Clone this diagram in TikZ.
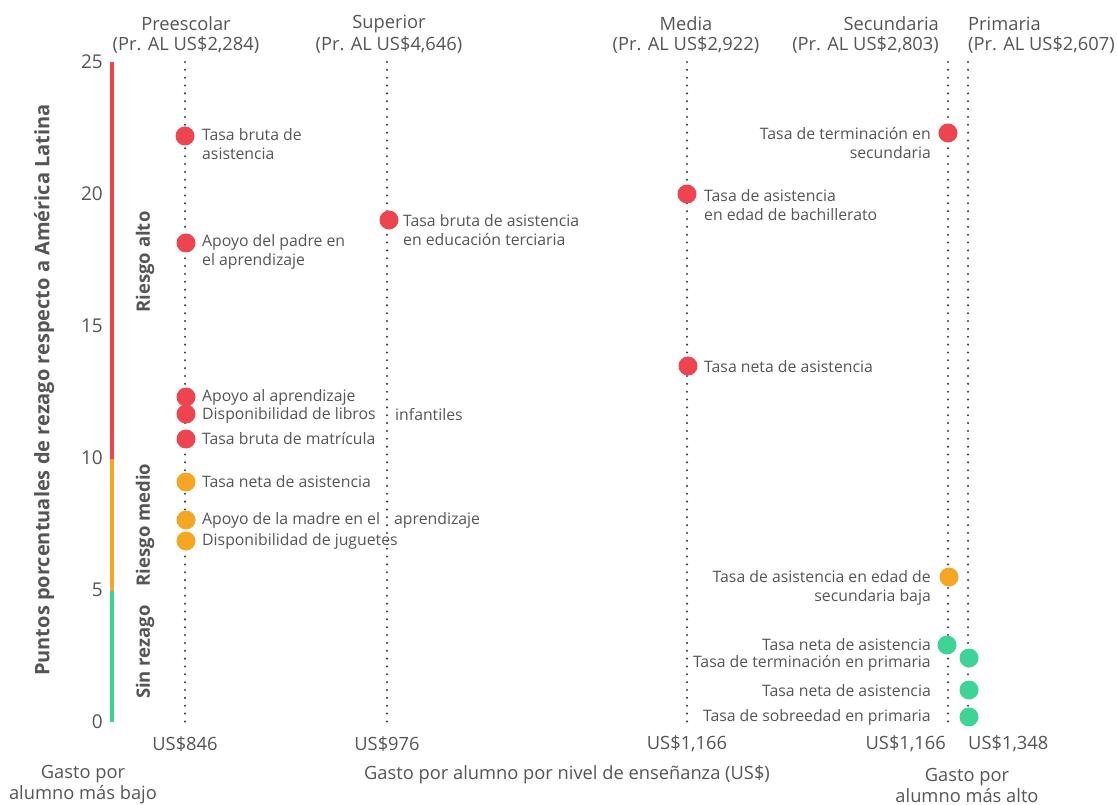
\documentclass[tikz,border=0pt]{standalone}
\usepackage{fontspec}
\setmainfont{Open Sans}
\definecolor{cred}{HTML}{EE4450}
\definecolor{corg}{HTML}{F5A623}
\definecolor{cgrn}{HTML}{3ED495}
\definecolor{ctxt}{HTML}{555555}
\definecolor{cdot}{HTML}{3A3F4A}
\begin{document}
\begin{tikzpicture}[x=1pt,y=-1pt,
  lbl/.style={text=ctxt,font=\fontsize{15.8}{19.5}\selectfont,inner sep=0pt,align=left},
  rlbl/.style={lbl,align=right},
  hdr/.style={text=ctxt,font=\fontsize{18.3}{21}\selectfont,inner sep=0pt},
  tick/.style={text=ctxt,font=\fontsize{19}{20}\selectfont,inner sep=0pt,anchor=east},
  band/.style={text=ctxt,font=\fontsize{18.5}{20}\selectfont\bfseries,inner sep=0pt,rotate=90},
  vline/.style={cdot,line width=2.3pt,line cap=round,dash pattern=on 0pt off 7.85pt},
  pt/.style={circle,inner sep=0pt,minimum size=19pt},
  rd/.style={pt,fill=cred},
  og/.style={pt,fill=corg},
  gn/.style={pt,fill=cgrn}]
\useasboundingbox (0,0) rectangle (1117,805);
% scale bar
\draw[cred,line width=4.5pt] (112,62) -- (112,459);
\draw[corg,line width=4.5pt] (112,459) -- (112,591);
\draw[cgrn,line width=4.5pt] (112,591) -- (112,722);
\node[tick] (t25) at (103,62) {25};
\node[tick] (t20) at (103,194) {20};
\node[tick] (t15) at (103,326) {15};
\node[tick] (t10) at (103,458) {10};
\node[tick] (t5) at (103,590) {5};
\node[tick] (t0) at (103,722) {0};
\node[band] (ralto) at (145,262) {Riesgo alto};
\node[band] (rmedio) at (145,525) {Riesgo medio};
\node[band] (sinr) at (145,652) {Sin rezago};
\node[band,font=\fontsize{20}{22}\selectfont\bfseries] (ytitle) at (44,390) {Puntos porcentuales de rezago respecto a América Latina};
% vertical dotted lines
\coordinate (pT) at (185,62); \coordinate (pB) at (185,722);
\coordinate (sT) at (387,62); \coordinate (sB) at (387,722);
\coordinate (mT) at (687,62); \coordinate (mB) at (687,722);
\coordinate (cT) at (948,62); \coordinate (cB) at (948,722);
\coordinate (qT) at (968,62); \coordinate (qB) at (968,722);
\draw[vline] (pT) -- (pB);
\draw[vline] (sT) -- (sB);
\draw[vline] (mT) -- (mB);
\draw[vline] (cT) -- (cB);
\draw[vline] (qT) -- (qB);
% headers
\node[hdr] (h1) at (186,24) {Preescolar};
\node[hdr] (h1b) at (186,45) {(Pr. AL US\$2,284)};
\node[hdr] (h2) at (389,24) {Superior};
\node[hdr] (h2b) at (389,45) {(Pr. AL US\$4,646)};
\node[hdr] (h3) at (686,24) {Media};
\node[hdr] (h3b) at (686,45) {(Pr. AL US\$2,922)};
\node[hdr,anchor=east] (h4) at (939,24) {Secundaria};
\node[hdr,anchor=east] (h4b) at (939,45) {(Pr. AL US\$2,803)};
\node[hdr,anchor=west] (h5) at (968,24) {Primaria};
\node[hdr,anchor=west] (h5b) at (968,45) {(Pr. AL US\$2,607)};
% bottom
\node[hdr] (b1) at (185,744) {US\$846};
\node[hdr] (b2) at (387,744) {US\$976};
\node[hdr] (b3) at (687,744) {US\$1,166};
\node[hdr,anchor=east] (b4) at (946,744) {US\$1,166};
\node[hdr,anchor=west] (b5) at (968,744) {US\$1,348};
\node[hdr,align=center] (g1) at (83,785) {Gasto por\\alumno más bajo};
\node[hdr] (g2) at (567,775) {Gasto por alumno por nivel de enseñanza (US\$)};
\node[hdr,align=center] (g3) at (967,785) {Gasto por\\alumno más alto};
% Preescolar points
\node[rd] (p1) at (185,136) {};
\node[lbl,anchor=west] at (202,144) {Tasa bruta de\\asistencia};
\node[rd] (p2) at (186,243) {};
\node[lbl,anchor=west] at (202,252) {Apoyo del padre en\\el aprendizaje};
\node[rd] (p3) at (186,397) {};
\node[lbl,anchor=west] at (202,397) {Apoyo al aprendizaje};
\node[rd] (p4) at (186,414) {};
\node[lbl,anchor=west] at (202,415) {Disponibilidad de libros};
\node[lbl,anchor=west] at (395,415) {infantiles};
\node[rd] (p5) at (186,439) {};
\node[lbl,anchor=west] at (202,439) {Tasa bruta de matrícula};
\node[og] (p6) at (186,482) {};
\node[lbl,anchor=west] at (202,482) {Tasa neta de asistencia};
\node[og] (p7) at (186,520) {};
\node[lbl,anchor=west] at (202,520) {Apoyo de la madre en el};
\node[lbl,anchor=west] at (394,520) {aprendizaje};
\node[og] (p8) at (186,541) {};
\node[lbl,anchor=west] at (202,541) {Disponibilidad de juguetes};
% Superior
\node[rd] (s1) at (389,220) {};
\node[lbl,anchor=west] at (403,230) {Tasa bruta de asistencia\\en educación terciaria};
% Media
\node[rd] (m1) at (687,194) {};
\node[lbl,anchor=west] at (704,205) {Tasa de asistencia\\en edad de bachillerato};
\node[rd] (m2) at (688,366) {};
\node[lbl,anchor=west] at (704,367) {Tasa neta de asistencia};
% Secundaria
\node[rd] (c1) at (948,133) {};
\node[rlbl,anchor=east] at (931,143) {Tasa de terminación en\\secundaria};
\node[og] (c2) at (949,577) {};
\node[rlbl,anchor=east] at (931,588) {Tasa de asistencia en edad de\\secundaria baja};
\node[gn] (c3) at (947,645) {};
\node[rlbl,anchor=east] at (931,645) {Tasa neta de asistencia};
% Primaria
\node[gn] (q1) at (969,658) {};
\node[rlbl,anchor=east] at (931,663) {Tasa de terminación en primaria};
\node[gn] (q2) at (969,690) {};
\node[rlbl,anchor=east] at (931,691) {Tasa neta de asistencia};
\node[gn] (q3) at (969,717) {};
\node[rlbl,anchor=east] at (931,717) {Tasa de sobreedad en primaria};
\end{tikzpicture}
\end{document}
